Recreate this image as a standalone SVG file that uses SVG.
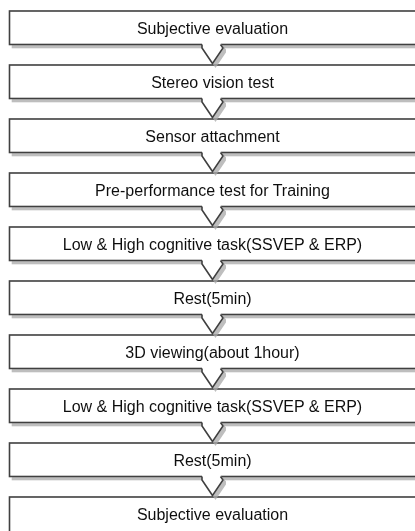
<svg xmlns="http://www.w3.org/2000/svg" width="415" height="531" viewBox="0 0 415 531">
<style>
.box{fill:#ffffff;stroke:#404040;stroke-width:1.6}
.lbl{font-family:"Liberation Sans",Arial,sans-serif;font-size:16px;fill:#111111;text-anchor:middle}
.cf{fill:#ffffff;stroke:none}
.cs{fill:none;stroke:#404040;stroke-width:1.6;stroke-linejoin:miter}
</style>
<defs>
<filter id="sh" x="-5%" y="-20%" width="115%" height="160%">
<feDropShadow dx="3" dy="3" stdDeviation="0.6" flood-color="#a8a8a8" flood-opacity="0.75"/>
</filter>
</defs>
<rect width="415" height="531" fill="#ffffff"/>
<g id="nodes" filter="url(#sh)">
<g id="n1"><rect class="box" x="9.5" y="11" width="430" height="33.5"/><text class="lbl" x="212.5" y="33.5">Subjective evaluation</text></g>
<g id="n2"><rect class="box" x="9.5" y="65" width="430" height="33.5"/><text class="lbl" x="212.5" y="87.5">Stereo vision test</text></g>
<g id="n3"><rect class="box" x="9.5" y="119" width="430" height="33.5"/><text class="lbl" x="212.5" y="141.5">Sensor attachment</text></g>
<g id="n4"><rect class="box" x="9.5" y="173" width="430" height="33.5"/><text class="lbl" x="212.5" y="195.5">Pre-performance test for Training</text></g>
<g id="n5"><rect class="box" x="9.5" y="227" width="430" height="33.5"/><text class="lbl" x="212.5" y="249.5">Low &amp; High cognitive task(SSVEP &amp; ERP)</text></g>
<g id="n6"><rect class="box" x="9.5" y="281" width="430" height="33.5"/><text class="lbl" x="212.5" y="303.5">Rest(5min)</text></g>
<g id="n7"><rect class="box" x="9.5" y="335" width="430" height="33.5"/><text class="lbl" x="212.5" y="357.5">3D viewing(about 1hour)</text></g>
<g id="n8"><rect class="box" x="9.5" y="389" width="430" height="33.5"/><text class="lbl" x="212.5" y="411.5">Low &amp; High cognitive task(SSVEP &amp; ERP)</text></g>
<g id="n9"><rect class="box" x="9.5" y="443" width="430" height="33.5"/><text class="lbl" x="212.5" y="465.5">Rest(5min)</text></g>
<g id="n10"><rect class="box" x="9.5" y="497" width="430" height="40"/><text class="lbl" x="212.5" y="519.5">Subjective evaluation</text></g>
</g>
<g id="connectors" filter="url(#sh)">
<defs>
<g id="chev">
<path class="cf" d="M202,-1.5 L202,3.5 L212.5,19 L223,3.5 L220.5,-1.5 Z"/>
<path class="cs" d="M202,0 L202,3.5 L212.5,19 L223,3.5 L220.5,0"/>
</g>
</defs>
<use href="#chev" y="44.5"/>
<use href="#chev" y="98.5"/>
<use href="#chev" y="152.5"/>
<use href="#chev" y="206.5"/>
<use href="#chev" y="260.5"/>
<use href="#chev" y="314.5"/>
<use href="#chev" y="368.5"/>
<use href="#chev" y="422.5"/>
<use href="#chev" y="476.5"/>
</g>
</svg>
